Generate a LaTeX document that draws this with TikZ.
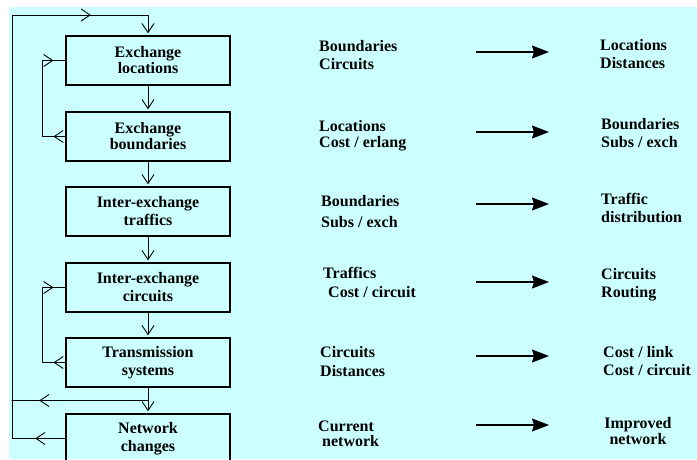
\documentclass[tikz,border=0pt]{standalone}
\usepackage{fontspec}
\setmainfont{Liberation Serif}
\usetikzlibrary{arrows.meta,decorations.markings,calc}

\definecolor{paleblue}{HTML}{CCFFFF}

\tikzset{
    stage/.style={draw, line width=2.4pt, minimum width=164pt, minimum height=49pt,
        align=center, inner sep=2pt},
    datatext/.style={anchor=north west, align=left, inner sep=0pt},
    flow/.style={line width=0.9pt, line cap=rect},
    down/.style={flow, -{Straight Barb[length=9pt,width=12pt]}, shorten >=1.5pt},
    midbarb/.style={flow, postaction={decorate}, decoration={markings,
        mark=at position #1 with {\arrow{Straight Barb[length=9pt,width=12pt]}}}},
    midbarb/.default=0.5,
    yields/.style={line width=1.2pt, -{Stealth[length=17pt,width=13pt,inset=2pt]}}
}

\begin{document}
\begin{tikzpicture}[x=1pt, y=-1pt, font=\bfseries\fontsize{16}{18}\selectfont]
    \useasboundingbox (0,0) rectangle (697,459);
    \fill[paleblue] (9,7) rectangle (697,459);

    % planning stages
    \node[stage] (loc) at (148,60.5) {Exchange\\[-2pt]locations};
    \node[stage] (bnd) at (148,136.5) {Exchange\\[-2pt]boundaries};
    \node[stage] (trf) at (148,211.5) {Inter-exchange\\traffics};
    \node[stage] (cct) at (148,287.5) {Inter-exchange\\circuits};
    \node[stage] (trs) at (148,362.5) {Transmission\\systems};
    \node[stage] (chg) at (148,438.5) {Network\\changes};

    \draw[down] (loc) -- (bnd);
    \draw[down] (bnd) -- (trf);
    \draw[down] (trf) -- (cct);
    \draw[down] (cct) -- (trs);
    \draw[down] (trs) -- (chg);

    % inner loops
    \coordinate (bndL) at (42,136.5); \coordinate (locL) at (42,60.5);
    \draw[midbarb] (bnd.west) -- (bndL); \draw[flow] (bndL) -- (locL);
    \draw[midbarb] (locL) -- (loc.west);
    \coordinate (trsL) at (42,362.5); \coordinate (cctL) at (42,287.5);
    \draw[midbarb] (trs.west) -- (trsL); \draw[flow] (trsL) -- (cctL);
    \draw[midbarb] (cctL) -- (cct.west);

    % outer loop back to the top
    \coordinate (chgL) at (12,438.5); \coordinate (topL) at (12,15);
    \coordinate (topR) at (148,15);
    \coordinate (split) at ($(trs.south)!0.5!(chg.north)$);
    \coordinate (splitL) at (12,400.5);
    \draw[midbarb=0.56] (chg.west) -- (chgL);
    \draw[midbarb=0.8] (split) -- (splitL);
    \draw[flow] (chgL) -- (topL);
    \draw[midbarb=0.58] (topL) -- (topR);
    \draw[down] (topR) -- (loc.north);

    % inputs
    \node[datatext] (in1) at (319,40) {Boundaries\\Circuits};
    \node[datatext] (in2) at (319,120) {Locations\\[-2pt]Cost / erlang};
    \node[datatext] (in3) at (321,195) {Boundaries\\[3pt]Subs / exch};
    \node[datatext] (in4) at (323,267) {Traffics\\[1pt]\hspace*{5pt}Cost / circuit};
    \node[datatext] (in5) at (320,346) {Circuits\\[1pt]Distances};
    \node[datatext] (in6) at (318,421) {Current\\[-3pt]\hspace*{4pt}network};

    % outputs
    \node[datatext] (out1) at (600,39) {Locations\\Distances};
    \node[datatext] (out2) at (601,118) {Boundaries\\Subs / exch};
    \node[datatext] (out3) at (601,193) {Traffic\\distribution};
    \node[datatext] (out4) at (601,268) {Circuits\\Routing};
    \node[datatext] (out5) at (603,346) {Cost / link\\Cost / circuit};
    \node[anchor=north, align=center, inner sep=0pt] (out6) at (638,417) {Improved\\[-2pt]network};

    \foreach \y [count=\i] in {52,132,204,282,356,425} {
        \coordinate (s\i) at (476,\y); \coordinate (e\i) at (549,\y);
        \draw[yields] (s\i) -- (e\i);
    }
\end{tikzpicture}
\end{document}
